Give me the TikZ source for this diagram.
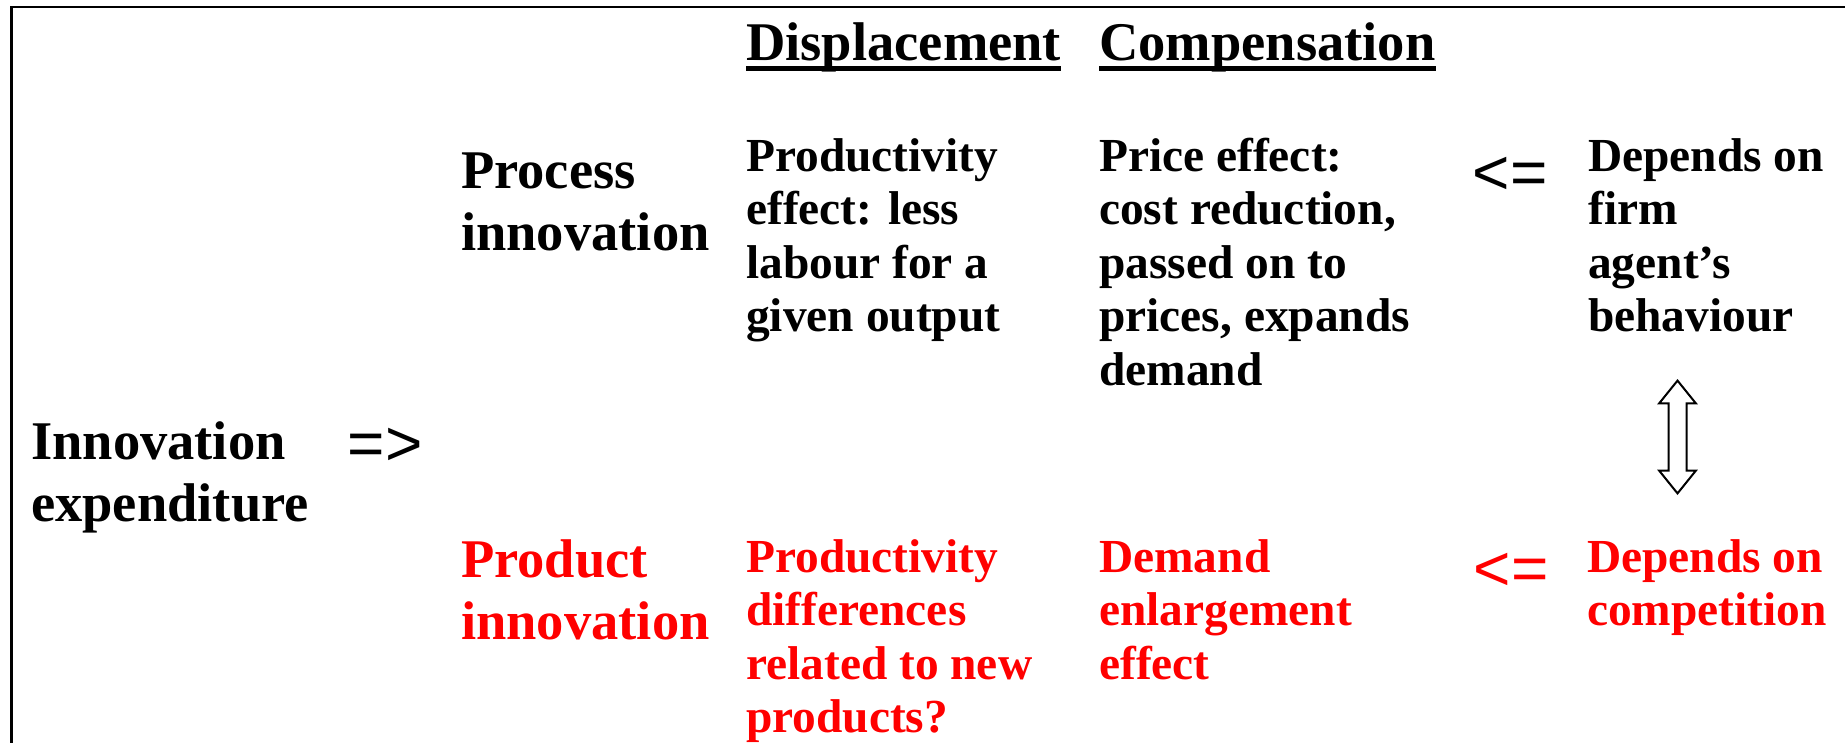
\documentclass[tikz,border=0pt]{standalone}
\usepackage{fontspec}
\setmainfont{Liberation Serif}
\newfontfamily\arrowsfont{Liberation Sans}
\definecolor{hotred}{RGB}{255,0,0}
\newcommand{\lines}[1]{\begin{tabular}[t]{@{}l@{}}#1\end{tabular}}
\begin{document}
\begin{tikzpicture}[x=1pt,y=-1pt,
  big/.style={anchor=base west, inner sep=0pt, font=\fontsize{54.5}{62}\selectfont\bfseries},
  small/.style={anchor=base west, inner sep=0pt, font=\fontsize{47.4}{53.5}\selectfont\bfseries},
  implies/.style={anchor=center, inner sep=0pt, font=\fontsize{64}{70}\selectfont\arrowsfont},
  frameline/.style={line width=2.5pt},
  headrule/.style={line width=5pt},
  twoway/.style={line width=2pt, fill=white, line join=miter}]
\useasboundingbox (0,0) rectangle (1845,742);
\fill[white] (0,0) rectangle (1845,742);

% outer frame (runs off the page on the right and bottom)
\draw[frameline] (11.3,7) rectangle (1870,770);

% column headings
\node[big] (disp) at (746,60) {Displacement};
\node[big] (comp) at (1099,60) {Compensation};
\draw[headrule] ([yshift=-8pt]disp.base west) -- ([yshift=-8pt]disp.base east);
\draw[headrule] ([yshift=-8pt]comp.base west) -- ([yshift=-8pt]comp.base east);

% process innovation row
\node[big] (proc) at (461,188) {\lines{Process\\innovation}};
\node[small] (prodeff) at (746,171) {\lines{Productivity\\effect: less\\labour for a\\given output}};
\node[small] (price) at (1099,171) {\lines{Price effect:\\cost reduction,\\passed on to\\prices, expands\\demand}};
\node[implies] (ltone) at (1510,176) {<=};
\node[small] (firm) at (1588,171) {\lines{Depends on\\firm\\agent’s\\behaviour}};

% left column
\node[big] (inno) at (31,459) {\lines{Innovation\\expenditure}};
\node[implies] (gt) at (385,447) {=>};

% product innovation row
\node[big, hotred] (prod) at (461,577) {\lines{Product\\innovation}};
\node[small, hotred] (diff) at (746,572) {\lines{Productivity\\differences\\related to new\\products?}};
\node[small, hotred] (dem) at (1099,572) {\lines{Demand\\enlargement\\effect}};
\node[implies, hotred] (lttwo) at (1511,572) {<=};
\node[small, hotred] (compet) at (1587,572) {\lines{Depends on\\competition}};

% hollow two-way arrow between the two "depends on" blocks
\coordinate (link) at (1677.5,437);
\begin{scope}[shift={(link)}]
  \draw[twoway] (0,-56.4) -- (18.3,-33.7) -- (9,-33.7) -- (9,33.7) -- (18.3,33.7)
    -- (0,56.4) -- (-18.3,33.7) -- (-9,33.7) -- (-9,-33.7) -- (-18.3,-33.7) -- cycle;
\end{scope}
\end{tikzpicture}
\end{document}
